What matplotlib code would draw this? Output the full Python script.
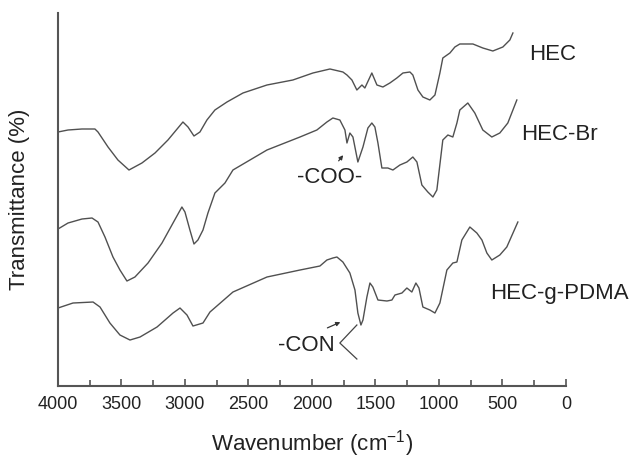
import numpy as np
import matplotlib
matplotlib.use('Agg')
import matplotlib.pyplot as plt
from matplotlib.ticker import MultipleLocator

plt.rcParams['font.family'] = ['Liberation Sans', 'DejaVu Sans']
plt.rcParams['mathtext.fontset'] = 'custom'
plt.rcParams['mathtext.rm'] = 'Liberation Sans'
plt.rcParams['mathtext.it'] = 'Liberation Sans'

# spectra (wavenumber, transmittance in arbitrary units)
hec_w = [4000, 3921, 3811, 3709, 3685, 3606, 3528, 3441, 3339, 3236, 3134, 3016, 2976, 2929,
         2882, 2827, 2764, 2669, 2543, 2354, 2150, 1992, 1858, 1756, 1724, 1685, 1646, 1606,
         1583, 1528, 1488, 1441, 1386, 1331, 1283, 1228, 1205, 1165, 1126, 1071, 1031, 992,
         969, 913, 874, 835, 732, 654, 575, 496, 441, 417]
hec_t = [254, 256, 257, 257, 254, 239, 226, 216, 223, 233, 246, 264, 259, 250,
         254, 266, 276, 284, 293, 301, 306, 313, 317, 314, 311, 306, 296, 301,
         298, 313, 301, 299, 303, 308, 313, 314, 311, 296, 289, 286, 291, 313,
         328, 333, 339, 342, 342, 338, 335, 339, 346, 353]

br_w = [4000, 3921, 3811, 3732, 3685, 3630, 3567, 3512, 3457, 3394, 3291, 3181, 3094, 3024,
        3000, 2961, 2929, 2898, 2858, 2819, 2764, 2685, 2622, 2354, 2094, 1961, 1882, 1835,
        1780, 1740, 1724, 1701, 1677, 1638, 1598, 1559, 1528, 1504, 1480, 1449, 1402, 1362,
        1307, 1252, 1205, 1173, 1134, 1087, 1047, 1016, 969, 929, 890, 858, 835, 772, 717,
        654, 583, 520, 457, 386]
br_t = [157, 163, 167, 168, 164, 149, 129, 116, 105, 109, 123, 143, 163, 179,
        174, 156, 142, 146, 156, 173, 193, 203, 216, 236, 249, 256, 264, 268,
        266, 256, 243, 253, 249, 224, 239, 258, 263, 259, 243, 218, 218, 216,
        221, 224, 229, 224, 201, 194, 189, 196, 246, 251, 249, 263, 276, 283, 273,
        256, 249, 253, 263, 286]

pdma_w = [4000, 3882, 3724, 3669, 3591, 3512, 3433, 3354, 3220, 3094, 3039, 2984, 2937, 2858,
          2803, 2622, 2354, 2094, 1937, 1882, 1835, 1803, 1756, 1701, 1661, 1638, 1614, 1598,
          1567, 1543, 1520, 1480, 1409, 1370, 1346, 1291, 1252, 1213, 1181, 1157, 1126, 1071,
          1031, 992, 937, 890, 858, 819, 756, 701, 661, 622, 583, 520, 465, 378]
pdma_t = [78, 83, 84, 79, 63, 51, 46, 49, 59, 73, 78, 71, 60, 63,
          74, 94, 109, 116, 120, 126, 128, 129, 124, 113, 96, 73, 61, 66,
          89, 103, 99, 86, 85, 86, 91, 93, 98, 94, 103, 98, 79, 76,
          73, 83, 116, 123, 124, 146, 159, 153, 146, 133, 126, 131, 139, 164]

fig = plt.figure(figsize=(6.38, 4.59), dpi=100)
ax = fig.add_axes([0.0909, 0.159, 0.796, 0.8127])

line_kw = dict(color='#505050', lw=1.0)
ax.plot(hec_w, hec_t, **line_kw)
ax.plot(br_w, br_t, **line_kw)
ax.plot(pdma_w, pdma_t, **line_kw)

ax.set_xlim(4000, 0)
ax.set_ylim(0, 373)
ax.xaxis.set_major_locator(MultipleLocator(500))
ax.xaxis.set_minor_locator(MultipleLocator(250))
ax.tick_params(axis='x', which='major', direction='in', length=5, width=1.2,
               color='#555555', labelsize=13, labelcolor='#222222', pad=7)
ax.tick_params(axis='x', which='minor', direction='in', length=4, width=1.2, color='#555555')
ax.set_yticks([])
for s in ['top', 'right']:
    ax.spines[s].set_visible(False)
for s in ['left', 'bottom']:
    ax.spines[s].set_color('#555555')
    ax.spines[s].set_linewidth(1.5)

ax.set_xlabel('Wavenumber (cm$^{-1}$)', fontsize=16, color='#222222', labelpad=11)
ax.set_ylabel('Transmittance (%)', fontsize=16, color='#222222', labelpad=20)

# curve labels
txt = dict(fontsize=16, color='#222222', va='center', ha='left')
ax.text(291, 331, 'HEC', **txt)
ax.text(354, 251, 'HEC-Br', **txt)
ax.text(598, 93, 'HEC-g-PDMA', **txt)
ax.text(2118, 209, '-COO-', **txt)
ax.text(2268, 41, '-CON', **txt)

# annotation marks
ax.annotate('', xy=(1740, 233), xytext=(1803, 223),
            arrowprops=dict(arrowstyle='-|>', color='#333333', lw=0.9, mutation_scale=6))
ax.annotate('', xy=(1756, 65), xytext=(1898, 57),
            arrowprops=dict(arrowstyle='-|>', color='#333333', lw=0.9, mutation_scale=6))
ax.plot([1646, 1780, 1646], [61, 43, 27], color='#444444', lw=0.9)

fig.savefig('out.png', dpi=100)
